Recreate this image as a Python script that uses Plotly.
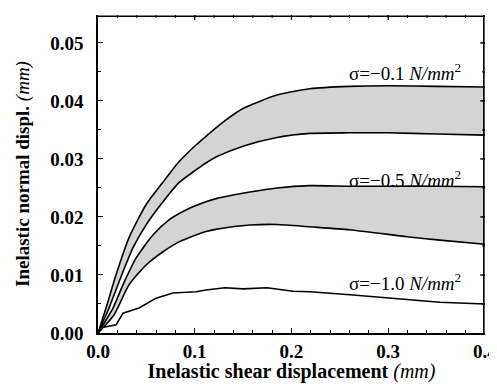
import plotly.graph_objects as go

# sigma = -0.1 band
x_01_up = [0, 0.0083, 0.0186, 0.032, 0.0496, 0.0672, 0.0837, 0.1013, 0.1116, 0.1313, 0.1499, 0.185, 0.2191, 0.26, 0.30, 0.35, 0.40]
y_01_up = [0, 0.0043, 0.0100, 0.0164, 0.0221, 0.0260, 0.0295, 0.0324, 0.0339, 0.0366, 0.0387, 0.0410, 0.0421, 0.0425, 0.0426, 0.0425, 0.0424]
x_01_lo = [0, 0.0114, 0.0217, 0.0362, 0.0496, 0.0672, 0.0837, 0.1013, 0.1116, 0.123, 0.1499, 0.185, 0.2191, 0.26, 0.30, 0.35, 0.40]
y_01_lo = [0, 0.0043, 0.0088, 0.0147, 0.0186, 0.0226, 0.0259, 0.0281, 0.0293, 0.0304, 0.0322, 0.0337, 0.0344, 0.0345, 0.0345, 0.0343, 0.0341]

# sigma = -0.5 band
x_05_up = [0, 0.0155, 0.0258, 0.0393, 0.0568, 0.0734, 0.091, 0.1116, 0.123, 0.157, 0.185, 0.2191, 0.26, 0.30, 0.35, 0.40]
y_05_up = [0, 0.0043, 0.0083, 0.0129, 0.0169, 0.0195, 0.0212, 0.0226, 0.0232, 0.0243, 0.0250, 0.0254, 0.0253, 0.0253, 0.0253, 0.0252]
x_05_lo = [0, 0.0165, 0.032, 0.0496, 0.0672, 0.0837, 0.1013, 0.1116, 0.123, 0.157, 0.185, 0.2191, 0.26, 0.3194, 0.3535, 0.40]
y_05_lo = [0, 0.0031, 0.0083, 0.0117, 0.0140, 0.0157, 0.0169, 0.0175, 0.0179, 0.0186, 0.0187, 0.0183, 0.0178, 0.0166, 0.0160, 0.0153]

# sigma = -1.0 curve
x_10 = [0, 0.0031, 0.0186, 0.0258, 0.0424, 0.06, 0.0775, 0.1013, 0.1116, 0.1313, 0.1499, 0.1747, 0.2016, 0.2191, 0.2605, 0.3018, 0.3535, 0.40]
y_10 = [0, 0.0009, 0.0014, 0.0034, 0.0043, 0.0060, 0.0069, 0.0071, 0.0074, 0.0078, 0.0076, 0.0078, 0.0072, 0.0071, 0.0066, 0.0060, 0.0053, 0.0050]

x_ticks = [0, 0.1, 0.2, 0.3, 0.4]
x_ticktext = ["0.0", "0.1", "0.2", "0.3", "0.4"]
y_ticks = [0, 0.01, 0.02, 0.03, 0.04, 0.05]
y_ticktext = ["0.00", "0.01", "0.02", "0.03", "0.04", "0.05"]

labels = ["σ=−0.1 <i>N/mm</i><sup>2</sup>", "σ=−0.5 <i>N/mm</i><sup>2</sup>", "σ=−1.0 <i>N/mm</i><sup>2</sup>"]
label_x = [0.377, 0.377, 0.377]
label_y = [0.0450, 0.0266, 0.0088]

FILL = "rgb(212,212,212)"
LINE = dict(color="black", width=1.6)
SERIF = "Liberation Serif, Times New Roman, serif"
XR = [0, 0.4001]
YR = [0, 0.0548]
W, H = 489, 375
M = dict(l=90, r=12, t=7, b=50)
PW = W - M["l"] - M["r"]
PH = H - M["t"] - M["b"]

fig = go.Figure()
sp = dict(LINE, shape="spline", smoothing=0.6)
fig.add_trace(go.Scatter(x=x_01_up, y=y_01_up, mode="lines", line=sp, showlegend=False))
fig.add_trace(go.Scatter(x=x_01_lo, y=y_01_lo, mode="lines", line=sp, fill="tonexty", fillcolor=FILL, showlegend=False))
fig.add_trace(go.Scatter(x=x_05_up, y=y_05_up, mode="lines", line=sp, showlegend=False))
fig.add_trace(go.Scatter(x=x_05_lo, y=y_05_lo, mode="lines", line=sp, fill="tonexty", fillcolor=FILL, showlegend=False))
fig.add_trace(go.Scatter(x=x_10, y=y_10, mode="lines", line=LINE, showlegend=False))

for t, lx, ly in zip(labels, label_x, label_y):
    fig.add_annotation(x=lx, y=ly, text=t, showarrow=False, xanchor="right", yanchor="middle",
                       font=dict(family=SERIF, size=19, color="black"))

# frame (top and right sides) and mirrored inside ticks
shapes = [
    dict(type="line", xref="paper", yref="paper", x0=0, x1=1, y0=0.996, y1=0.996, line=dict(color="black", width=1.6)),
    dict(type="line", xref="paper", yref="paper", x0=0.997, x1=0.997, y0=0, y1=1, line=dict(color="black", width=1.6)),
]
x_minor = [i * 0.02 for i in range(1, 20)]
y_minor = [i * 0.005 for i in range(1, 11)]
for v in x_ticks[1:-1]:
    shapes.append(dict(type="line", xref="x", yref="paper", x0=v, x1=v, y0=1, y1=1 - 5 / PH, line=dict(color="black", width=1.2)))
for v in x_minor:
    shapes.append(dict(type="line", xref="x", yref="paper", x0=v, x1=v, y0=1, y1=1 - 3 / PH, line=dict(color="black", width=1)))
for v in y_ticks[1:]:
    shapes.append(dict(type="line", xref="paper", yref="y", x0=1, x1=1 - 5 / PW, y0=v, y1=v, line=dict(color="black", width=1.2)))
for v in y_minor:
    shapes.append(dict(type="line", xref="paper", yref="y", x0=1, x1=1 - 3 / PW, y0=v, y1=v, line=dict(color="black", width=1)))

tick_common = dict(ticks="inside", ticklen=5, tickwidth=1.2, tickcolor="black",
                   showgrid=False, zeroline=False)
tickfont = dict(family=SERIF, size=19, color="black", weight="bold")

fig.update_layout(
    xaxis=dict(range=XR, tickvals=x_ticks, ticktext=x_ticktext, tickfont=tickfont,
               ticklabeloverflow="allow", showline=True, linecolor="black", linewidth=1.5,
               minor=dict(dtick=0.02, ticks="inside", ticklen=3, tickcolor="black"),
               title=dict(text="<b>Inelastic shear displacement </b><i>(mm)</i>", standoff=5,
                          font=dict(family=SERIF, size=20, color="black")),
               **tick_common),
    yaxis=dict(range=YR, tickvals=y_ticks, ticktext=y_ticktext, tickfont=tickfont,
               ticklabeloverflow="allow", ticklabelstandoff=9,
               showline=True, linecolor="black", linewidth=1.5,
               minor=dict(dtick=0.005, ticks="inside", ticklen=3, tickcolor="black"),
               title=dict(text="<b>Inelastic normal displ. </b><i>(mm)</i>", standoff=16,
                          font=dict(family=SERIF, size=19, color="black")),
               **tick_common),
    shapes=shapes,
    width=W, height=H, margin=dict(M, autoexpand=False),
    plot_bgcolor="white", paper_bgcolor="white",
)

fig.write_html("out.html")
